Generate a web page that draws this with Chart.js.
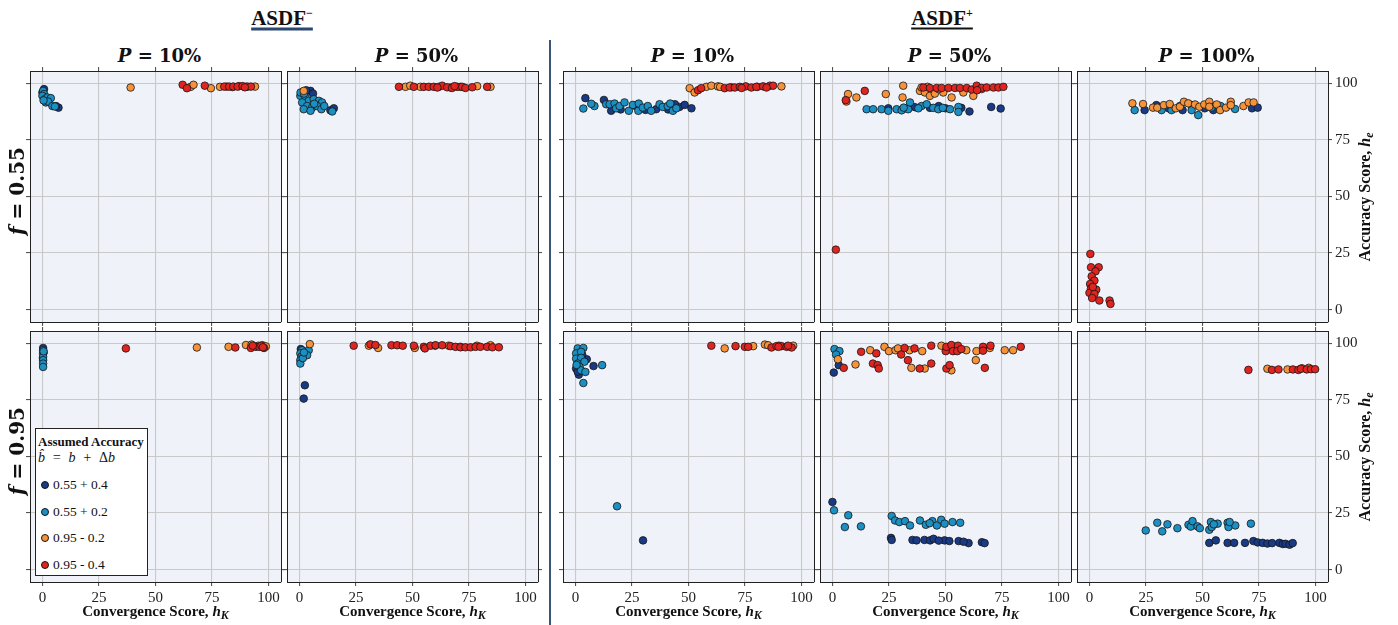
<!DOCTYPE html>
<html>
<head>
<meta charset="utf-8">
<title>ASDF scatter grid</title>
<script src="https://cdn.jsdelivr.net/npm/chart.js@4.4.0/dist/chart.umd.min.js"></script>
<style>
    body {
        margin: 0;
        width: 1398px;
        height: 625px;
        position: relative;
        overflow: hidden;
        background: #ffffff;
        font-family: 'Liberation Serif', serif;
        color: #111;
    }
    canvas { position: absolute; }
    .txt { position: absolute; white-space: nowrap; line-height: 1; }
    .group { font-weight: bold; font-size: 21px; text-decoration: underline; text-underline-offset: 3px; }
    .group .sign { position: relative; top: -8px; font-size: 12px; }
    .coltitle { font-family: 'DejaVu Serif', serif; font-weight: bold; font-size: 18px; }
    .rowtitle { font-family: 'DejaVu Serif', serif; font-weight: bold; font-size: 20px; }
    .axtitle { font-weight: bold; font-size: 15px; }
    .axtitle.vert { font-size: 16px; }
    .axtitle sub { font-size: 12px; font-style: italic; vertical-align: -3px; }
    .sep { position: absolute; left: 549px; top: 40px; width: 1.5px; height: 585px; background: #3a5478; }
    .legend {
        position: absolute; left: 35px; top: 428px; width: 113px; height: 148px;
        border: 1px solid #222; background: #fff; box-sizing: border-box;
    }
    .legend .lt { position: absolute; left: 2px; top: 5px; font-weight: bold; font-size: 13px; }
    .legend .lf { position: absolute; left: 2px; top: 21px; font-style: italic; font-size: 14px; }
    .legend .lf .up { font-style: normal; }
    .legend .row { position: absolute; left: 5px; font-size: 13.5px; display: flex; align-items: center; }
    .legend .dot { width: 8px; height: 8px; border-radius: 50%; border: 0.8px solid #151515; margin-right: 4px; box-sizing: border-box; }
</style>
</head>
<body>
<div class="sep"></div>
<script>
// shared axis range and ticks
const axisMin = -5.5;
const axisMax = 105.5;
const tickValues = [0, 25, 50, 75, 100];

// series (assumed accuracy b + delta b)
const seriesLabels = ['0.55 + 0.4', '0.55 + 0.2', '0.95 - 0.2', '0.95 - 0.4'];
const seriesColors = ['#193a84', '#1c8fc3', '#f6923a', '#e02420'];

const groupTitles = ['ASDF', 'ASDF'];
const groupSigns = ['−', '+'];
const columnTitles = ['10%', '50%', '10%', '50%', '100%'];
const rowTitles = ['0.55', '0.95'];

// each panel: [0.55+0.4, 0.55+0.2, 0.95-0.2, 0.95-0.4], points are [h_K, h_e]
const minusP10F55 = [
    [[0.7, 97.5], [0, 96], [7.1, 89.3], [6, 90]],
    [[0.3, 96.7], [0.7, 95.3], [0, 94.5], [1, 93], [2.2, 93.8], [3.7, 93.5], [1.5, 91.6], [2.5, 92], [4.4, 90], [5.5, 89.8], [0.5, 92.5]],
    [[39, 98.2], [65.6, 98.5], [66.8, 99.4], [74.5, 97.9], [78.5, 98.5], [81.5, 98.6], [84, 98.4], [87, 98.8], [90, 98.5], [94, 98.6]],
    [[62, 99.4], [63.9, 97.9], [71.8, 99], [80.4, 98.6], [82.6, 98.6], [84.4, 98.6], [86.3, 98.6], [88.5, 98.8], [90.7, 98.6], [92.2, 98.6], [89.5, 98.3]]
];
const minusP50F55 = [
    [[4.9, 96.7], [13.7, 88.1], [15.2, 89], [3, 97], [6, 95.5]],
    [[0.4, 94.5], [2.7, 93.8], [4.1, 92.3], [6.3, 93], [8.6, 92.3], [10, 91.6], [1.2, 91.6], [3.4, 90], [5.6, 89.3], [7.8, 90], [9.7, 88.6], [14.5, 87.6], [1.9, 88.6], [4.9, 87.9], [0.5, 96], [2, 95.5], [6.5, 91], [11, 90]],
    [[1.9, 96.7], [46.9, 98.5], [49, 99], [53.5, 98.5], [61.6, 98.5], [66.8, 98.2], [71.2, 98.5], [78.6, 98.8], [84.5, 98.5]],
    [[44, 98.5], [50.6, 98.5], [55, 98.5], [57.2, 98.5], [59.4, 98.5], [63.1, 99], [65.3, 98.3], [67.5, 98], [69.8, 98.5], [72, 98.5], [73.4, 98], [76.4, 98.3], [83, 98.5], [61, 98.2], [68.6, 98.8]]
];
const plusP10F55 = [
    [[4.4, 93.5], [12.6, 92.7], [15.8, 87.9], [35.7, 88.6], [46, 89.6], [48.3, 90.5], [51.3, 89], [20, 88.5], [26, 90.2], [31, 88.3], [41, 88.5], [44, 90.8]],
    [[3.5, 88.9], [8.4, 90], [7, 91], [13.6, 90.8], [15.1, 90.8], [17.3, 91.1], [18, 89], [19.5, 90], [21.7, 91.6], [23.6, 87.9], [25.4, 90.5], [27.8, 87.9], [28, 91.1], [29.8, 89.3], [32, 90], [33.5, 87.9], [37.2, 90.8], [38.6, 89.6], [40.8, 90], [41.9, 91.1], [43.1, 87.9], [44.6, 89]],
    [[50.5, 97.9], [52.7, 96], [57.9, 98.5], [60.1, 99], [63, 98.7], [64, 98.5], [69, 98.3], [80.5, 98.5], [91.1, 98.7]],
    [[54.2, 97], [55.6, 97.9], [66, 97.9], [68.2, 98.2], [70.5, 98.2], [72.7, 98.5], [75.3, 98.7], [77.8, 98.2], [80, 98.5], [83, 98.7], [86, 99], [87.4, 99], [73.5, 98], [84.5, 98.2]]
];
const plusP50F55 = [
    [[24.7, 89], [32, 89], [36.5, 89.5], [43.1, 89.2], [50, 89], [57, 89.2], [60.6, 87.6], [70.2, 89.6], [74.4, 88.9], [47, 90]],
    [[15.1, 88.6], [18, 88.6], [21.7, 88.6], [24.7, 87.9], [28.4, 88.6], [30.6, 88.1], [33.5, 88.6], [34.3, 91.6], [39.4, 90], [41.7, 90.8], [44.6, 89.2], [46.8, 88.6], [48.8, 89.2], [52, 88.6], [55.7, 89.6], [55.7, 87.4], [38, 89], [31.5, 89.3]],
    [[6.9, 95.3], [6.2, 92], [10.6, 93.8], [23.6, 95.3], [31.3, 99], [31, 93.8], [38.7, 96.7], [39.4, 98.2], [40.9, 96], [43.1, 94.5], [45.3, 95.5], [49, 96], [52.7, 93.8], [57.9, 96], [62.3, 94.5], [66, 97.5], [42, 98.5], [47, 97.5]],
    [[5.9, 92.6], [14.3, 96.7], [40.2, 98.2], [43.1, 98], [46.1, 98], [48.3, 98], [51.3, 98], [54.2, 98], [56.4, 98], [59.4, 98], [61.6, 97.3], [63.8, 99], [66, 98], [68.2, 98.2], [71.2, 98.2], [73.4, 98.2], [75.6, 98.5], [64, 97], [1.5, 26.5]]
];
const plusP100F55 = [
    [[24.4, 88.2], [29.6, 90.4], [41.2, 88.2], [45.2, 90.4], [54.8, 88.2], [71.9, 89], [74.4, 89.3], [35, 89], [51, 89]],
    [[20, 88.2], [31.9, 88.2], [36.3, 88.2], [40, 90], [45.2, 88.2], [48.1, 86], [54, 89.3], [64.4, 88.7], [58, 90]],
    [[19, 91.2], [23.7, 90.9], [28.1, 89.3], [30, 89.3], [32.9, 90.4], [35.5, 90.9], [38.2, 89], [40, 89.7], [41.8, 91.9], [43.7, 91.2], [46.7, 90.7], [48.6, 89.7], [50.8, 90.7], [53, 91.9], [53, 89.7], [56.3, 90.7], [57.8, 88.2], [60.4, 89.3], [62.5, 91.9], [62.5, 90.4], [68.1, 90], [70.4, 91.6], [72.6, 91.6]],
    [[0.4, 24.6], [0.7, 18.7], [4.1, 18.7], [2.7, 16.9], [1, 14.7], [2.2, 12.8], [0.3, 11.3], [0.7, 9.3], [3, 8.8], [0, 7.4], [2.2, 6.9], [1.2, 5.1], [4.4, 4], [8.9, 4], [9.3, 2.5], [1.5, 10]]
];
const minusP10F95 = [
    [[0.3, 98], [0.5, 96], [0.2, 93.5]],
    [[0.3, 97], [0.3, 95.6], [0.3, 94.1], [0.3, 92.6], [0.3, 91.1], [0.3, 89.6], [0.5, 96.5]],
    [[68.3, 98.2], [82.3, 98.5], [90, 99.3], [97.3, 99.2], [98.8, 98.7], [92.5, 99.5], [95.5, 99]],
    [[36.9, 97.8], [85.3, 98.2], [92.2, 98], [94.4, 98.5], [95.9, 98.5], [98, 98], [93, 99], [96.8, 99], [97.5, 98.3]]
];
const minusP50F95 = [
    [[2.4, 81.5], [1.9, 75.6], [0.6, 97.5]],
    [[4.1, 97], [3.4, 94.8], [1.2, 97], [0.4, 95.6], [0.9, 94.1], [0.4, 92.6], [0.4, 91.1], [1.5, 93.5], [2, 96]],
    [[4.6, 99.7], [30.7, 99], [34.8, 98], [51, 98], [66, 99], [71.2, 98.5], [78.5, 99], [84.5, 99.2], [60, 99]],
    [[24, 99], [31.4, 99.6], [33.6, 99.3], [40.7, 99.2], [43.2, 99.2], [45.7, 99], [50.6, 99], [55, 98.5], [55.5, 97.8], [58, 99], [60.2, 99.2], [63.1, 99.2], [66.8, 98.8], [69, 98.5], [71.2, 98.3], [73.4, 98.3], [75.7, 98.3], [77.9, 98.5], [80, 98.5], [83, 98.5], [85.3, 98.3], [88.2, 98.3]]
];
const plusP10F95 = [
    [[0.3, 88.9], [1.5, 86.2], [1, 87.5], [8, 90], [5, 93], [3, 95], [29.9, 12.9]],
    [[1, 97.8], [3.5, 98], [0.3, 95.6], [2.5, 96.3], [0.3, 93.3], [2.5, 93.6], [1, 91.1], [4, 91.9], [1.8, 89.6], [2.5, 88.1], [4.4, 87.4], [11.8, 90.4], [3.5, 82.5], [18.4, 28], [0.5, 90.5]],
    [[66, 97.8], [78.6, 98.8], [83.8, 99.5], [85.2, 99.2], [90, 99], [96.3, 99]],
    [[60.1, 99], [70.8, 98.8], [74.9, 98.5], [76.4, 98.5], [86.7, 98.2], [88.9, 98.8], [91.1, 98.8], [93.4, 98.5], [95.6, 98.2], [94, 99], [89.8, 98.5]]
];
const plusP50F95 = [
    [[0.6, 87.1], [2.8, 90.4], [0, 29.9], [25.9, 14], [26.2, 13.1], [35.4, 13.1], [37.2, 12.9], [40.7, 13.1], [43.2, 12.9], [44.7, 13.6], [49.6, 12.9], [51.7, 12.6], [55.8, 12.6], [60.2, 11.7], [66.1, 12.1], [67.3, 11.7], [47, 12.8], [58, 12.3]],
    [[0.9, 97.5], [3.1, 96.6], [1.6, 95.1], [0.7, 26.2], [7, 24], [5.5, 18.8], [12.6, 19.1], [26.2, 23.7], [27.7, 21.7], [29.6, 21], [32.1, 21.4], [34.3, 19.5], [38.7, 21.7], [41.3, 19.8], [44.2, 21.4], [46.2, 19.5], [48.1, 22], [49.6, 20.3], [53.1, 21], [56.5, 20.7], [43, 20.5]],
    [[2.4, 93], [10.2, 90.7], [16.7, 97], [23, 98.5], [25, 96.6], [27.9, 97], [29, 97.8], [34.1, 97], [34.9, 89.2], [39.7, 96.6], [40.8, 88.9], [48.2, 99], [52.6, 88.1], [59.2, 97], [63.7, 96.6], [63.4, 92.6], [69.6, 98], [76.2, 97], [79.9, 97]],
    [[5, 89.2], [12.7, 96.3], [17.9, 91.1], [19.4, 95.6], [20, 90.4], [20.5, 88.9], [30.4, 95.1], [31.9, 98], [33.4, 92.6], [36.3, 97.8], [38.6, 88.9], [43.7, 91.1], [43.7, 99], [50.1, 96.6], [50.4, 98.5], [50.4, 88.9], [51.8, 90.4], [52.6, 99.3], [53.3, 96.6], [55.5, 99], [55.2, 96.6], [57, 97.5], [66.6, 98.5], [66.6, 96.8], [67.4, 89.2], [69.9, 99], [83.3, 98.5]]
];
const plusP100F95 = [
    [[53, 11.8], [55.9, 12.9], [61.1, 11.8], [64, 11.8], [68.8, 11.8], [72.5, 12.6], [74.4, 12], [76.6, 11.8], [78.7, 11.5], [80.8, 11.7], [84, 11.8], [85.5, 11.3], [86.7, 11.4], [88.5, 11], [89.9, 11.7]],
    [[24.9, 17.3], [30, 20.7], [32.2, 16.9], [34.5, 20], [38.9, 18.3], [43.8, 19.8], [44.8, 19], [45.6, 21.4], [47.8, 19.1], [48.8, 18.3], [53, 17.6], [53.7, 21], [54.1, 18.8], [56.7, 20.3], [61.1, 20.7], [61.5, 18.8], [64.5, 19.5], [71.4, 20.3], [55, 20], [62, 21]],
    [[78.7, 88.8], [87.6, 88.5], [94, 89], [97, 89.2]],
    [[70.3, 88.3], [80.7, 88.3], [83.6, 88.5], [90, 88.5], [92.4, 88.3], [93.5, 88.8], [96.1, 88.5], [98, 88.6], [99.8, 88.6]]
];

// page layout (pixels)
const colLeft = [30, 287, 563, 820, 1077];
const rowTop = [71, 331];
const panelSize = 251;

const panelGrid = [
    [minusP10F55, minusP50F55, plusP10F55, plusP50F55, plusP100F55],
    [minusP10F95, minusP50F95, plusP10F95, plusP50F95, plusP100F95]
];

// light blue-grey fill behind each plot area
const panelBackground = {
    id: 'panelBackground',
    beforeDraw(chart) {
        const { ctx, chartArea: a } = chart;
        ctx.save();
        ctx.fillStyle = '#eff3f9';
        ctx.fillRect(a.left, a.top, a.right - a.left, a.bottom - a.top);
        ctx.restore();
    }
};

function axisOptions(axis, position, size, showLabels, onArea) {
    const horizontal = axis === 'x';
    return {
        type: 'linear',
        axis: axis,
        position: position,
        min: axisMin,
        max: axisMax,
        afterBuildTicks: scale => { scale.ticks = tickValues.map(v => ({ value: v })); },
        afterFit: scale => {
            if (horizontal) scale.height = size; else scale.width = size;
            // keep the plot box fixed: no extra room for overhanging labels
            scale.paddingTop = 0;
            scale.paddingBottom = 0;
            scale.paddingLeft = 0;
            scale.paddingRight = 0;
        },
        grid: {
            drawOnChartArea: onArea,
            color: '#c9c9c9',
            lineWidth: 1.1,
            drawTicks: true,
            tickLength: 4,
            tickColor: '#555'
        },
        border: { display: true, color: '#222', width: 1 },
        ticks: {
            display: showLabels,
            padding: 3,
            autoSkip: false,
            maxRotation: 0,
            color: '#222',
            font: { family: 'Liberation Serif', size: 15 }
        }
    };
}

function makePanel(points, row, col) {
    const lastRow = row === 1;
    const lastCol = col === 4;
    const padL = 5, padT = 5;
    const padR = lastCol ? 42 : 5;
    const padB = lastRow ? 26 : 5;

    const canvas = document.createElement('canvas');
    canvas.width = panelSize + padL + padR;
    canvas.height = panelSize + padT + padB;
    canvas.style.left = (colLeft[col] - padL) + 'px';
    canvas.style.top = (rowTop[row] - padT) + 'px';
    document.body.appendChild(canvas);

    new Chart(canvas, {
        type: 'scatter',
        data: {
            datasets: points.map((pts, i) => ({
                label: seriesLabels[i],
                data: pts.map(p => ({ x: p[0], y: p[1] })),
                backgroundColor: seriesColors[i],
                borderColor: '#151515',
                borderWidth: 0.8,
                pointRadius: 3.8,
                order: 3 - i
            }))
        },
        options: {
            responsive: false,
            animation: false,
            devicePixelRatio: 1,
            layout: { padding: 0, autoPadding: false },
            plugins: { legend: { display: false }, tooltip: { enabled: false } },
            scales: {
                x: axisOptions('x', 'bottom', padB, lastRow, true),
                xTop: axisOptions('x', 'top', padT, false, false),
                y: axisOptions('y', 'left', padL, false, true),
                yRight: axisOptions('y', 'right', padR, lastCol, false)
            }
        },
        plugins: [panelBackground]
    });
}

function addText(html, cls, x, y, rotate) {
    const el = document.createElement('div');
    el.className = 'txt ' + cls;
    el.innerHTML = html;
    el.style.left = x + 'px';
    el.style.top = y + 'px';
    el.style.transform = 'translate(-50%, -50%)' + (rotate ? ' rotate(-90deg)' : '');
    document.body.appendChild(el);
    return el;
}

// panels
panelGrid.forEach((rowPanels, r) => rowPanels.forEach((pts, c) => makePanel(pts, r, c)));

// group headings
const minusHead = addText(`${groupTitles[0]}<span class="sign">${groupSigns[0]}</span>`, 'group', 282, 18);
minusHead.style.textDecorationColor = '#2b4770';
minusHead.style.textDecorationThickness = '3px';
const plusHead = addText(`${groupTitles[1]}<span class="sign">${groupSigns[1]}</span>`, 'group', 942, 18);
plusHead.style.textDecorationThickness = '2px';

// column headings and x axis titles
columnTitles.forEach((t, c) => {
    const cx = colLeft[c] + panelSize / 2;
    addText(`<i>P</i>&nbsp;=&nbsp;${t}`, 'coltitle', cx + 4, 56);
    addText('Convergence Score, <i>h</i><sub>K</sub>', 'axtitle', cx, 612);
});

// row headings and right axis titles
rowTitles.forEach((t, r) => {
    const cy = rowTop[r] + panelSize / 2;
    addText(`<i>f</i>&nbsp;=&nbsp;${t}`, 'rowtitle', 17, cy - 6, true);
    addText('Accuracy Score, <i>h</i><sub>e</sub>', 'axtitle vert', 1366, cy, true);
});

// legend inside the lower left panel
const legend = document.createElement('div');
legend.className = 'legend';
legend.innerHTML = '<div class="lt">Assumed Accuracy</div><div class="lf">b&#770;&nbsp; = &nbsp;b &nbsp;+ &nbsp;<span class="up">&Delta;</span>b</div>';
seriesLabels.forEach((label, i) => {
    const row = document.createElement('div');
    row.className = 'row';
    row.style.top = (48 + i * 26.7) + 'px';
    row.innerHTML = `<span class="dot" style="background:${seriesColors[i]}"></span>${label}`;
    legend.appendChild(row);
});
document.body.appendChild(legend);
</script>
</body>
</html>
